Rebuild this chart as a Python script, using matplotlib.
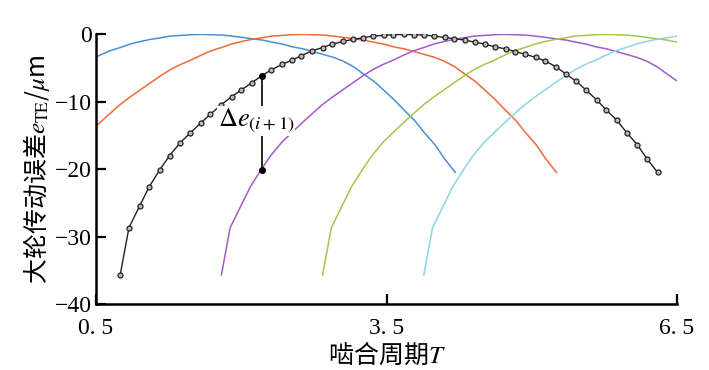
import numpy as np
import matplotlib
matplotlib.use("Agg")
import matplotlib.pyplot as plt

plt.rcParams['font.family'] = ['Noto Sans CJK SC', 'DejaVu Sans']
plt.rcParams['mathtext.fontset'] = 'stix'
plt.rcParams['axes.unicode_minus'] = True

# 一个啮合周期内的传动误差 (黑色曲线, 带标记)
T_base = [0.75, 0.84, 0.95, 1.05, 1.16, 1.26, 1.37, 1.47, 1.58, 1.68,
          1.79, 1.90, 2.00, 2.11, 2.21, 2.31, 2.42, 2.52, 2.62, 2.73,
          2.84, 2.94, 3.05, 3.15, 3.26, 3.36, 3.47, 3.57, 3.68, 3.78,
          3.89, 3.99, 4.10, 4.20, 4.31, 4.41, 4.52, 4.62, 4.73, 4.83,
          4.93, 5.04, 5.14, 5.25, 5.35, 5.46, 5.56, 5.67, 5.77, 5.88,
          5.98, 6.09, 6.19, 6.30]
e_base = [-35.7, -28.7, -25.5, -22.6, -20.1, -18.0, -16.1, -14.7, -13.2, -11.9,
          -10.5, -9.3, -8.3, -7.2, -6.2, -5.3, -4.5, -3.9, -3.2, -2.5,
          -2.0, -1.5, -1.1, -0.8, -0.55, -0.3, -0.2, -0.1, -0.05, -0.1,
          -0.15, -0.3, -0.5, -0.7, -0.9, -1.2, -1.5, -1.9, -2.2, -2.6,
          -3.0, -3.45, -4.0, -4.85, -5.9, -7.0, -8.3, -9.75, -11.25, -12.8,
          -14.6, -16.4, -18.5, -20.5]

# 相邻轮齿曲线相对黑色曲线的平移量
shifts = [-2.09, -1.045, 1.045, 2.09, 3.135]
colors = ['#4A8FD4', '#EE6A3A', '#A45BCB', '#A6C64A', '#8ED4EA']

# Δe 标注位置
de_x = 2.21
de_top = -6.2
de_bot = -20.2

xticks = [0.5, 3.5, 6.5]
xticklabels = ['0. 5', '3. 5', '6. 5']
yticks = [0, -10, -20, -30, -40]

fig = plt.figure(figsize=(7.09, 3.70), dpi=100)
ax = fig.add_axes([0.1354, 0.1784, 0.8195, 0.7296])

T_base = np.array(T_base)
for s, c in zip(shifts, colors):
    ax.plot(T_base + s, e_base, color=c, lw=1.1, zorder=2)

ax.plot(T_base, e_base, color='#222222', lw=1.0, marker='o', ms=3.6,
        mfc='#bbbbbb', mec='#222222', mew=0.9, zorder=3)

ax.plot([de_x, de_x], [de_top, de_bot], color='black', lw=1.2, zorder=4)
ax.plot([de_x, de_x], [de_top, de_bot], 'o', color='black', ms=4, zorder=5)
ax.text(1.76, -12.9, r'$\Delta e_{(i+1)}$', fontsize=19, ha='left', va='center',
        bbox=dict(facecolor='white', edgecolor='none', pad=0.5), zorder=6)

ax.set_xlim(0.5, 6.5)
ax.set_ylim(-40, 0)
ax.set_xticks(xticks)
ax.set_xticklabels(xticklabels, fontfamily='Liberation Serif', fontsize=17)
ax.set_yticks(yticks)
ax.set_yticklabels(['0', '\u221210', '\u221220', '\u221230', '\u221240'],
                   fontfamily='Liberation Serif', fontsize=17)
ax.tick_params(direction='in', length=7, width=1.6, pad=3)
ax.tick_params(axis='x', pad=10)

for side in ['top', 'right']:
    ax.spines[side].set_visible(False)
for side in ['left', 'bottom']:
    ax.spines[side].set_linewidth(1.8)

ax.set_xlabel('啮合周期$T$', fontsize=18, labelpad=2)
ax.set_ylabel('大轮传动误差$e_{\\mathrm{TE}}$/$\\mu$m', fontsize=18, labelpad=2)

fig.savefig('out.png', dpi=100)
